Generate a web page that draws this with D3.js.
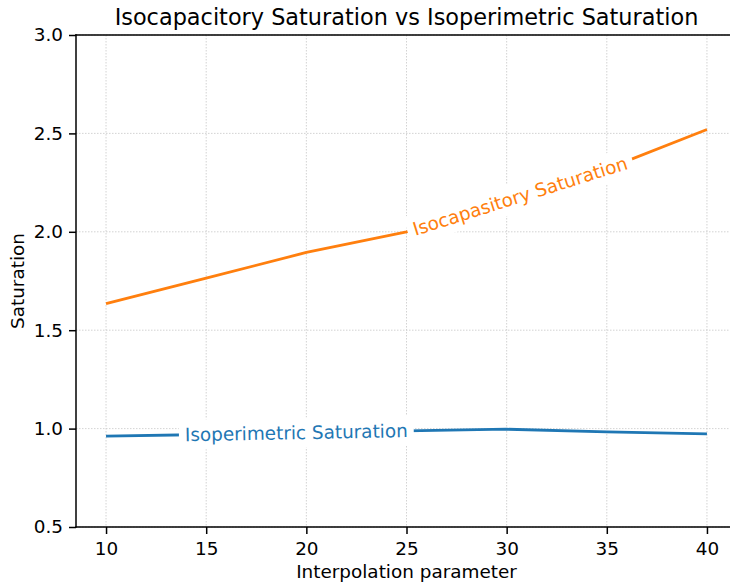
<!DOCTYPE html>
<html><head><meta charset="utf-8">
<script src="https://cdn.jsdelivr.net/npm/d3@7"></script>
<style>body{margin:0;background:#fff}svg{display:block;font-family:"DejaVu Sans",sans-serif}</style>
</head><body><svg id="c" width="730" height="586"></svg>
<script>
const xValues = [10, 15, 20, 25, 30, 35, 40];
const isocapacitory = [1.635, 1.765, 1.895, 2.0, 2.16, 2.32, 2.52];
const isoperimetric = [0.962, 0.970, 0.980, 0.988, 0.997, 0.983, 0.973];
const xTicks = [10, 15, 20, 25, 30, 35, 40];
const yTicks = [0.5, 1.0, 1.5, 2.0, 2.5, 3.0];
const seriesNames = ["Isoperimetric Saturation", "Isocapasitory Saturation"];
const labelX = [19.5, 30.67];
const colors = ["#1f77b4", "#ff7f0e"];

const svg = d3.select("#c");
const L = 76, R = 737, T = 35, B = 527;
const x = d3.scaleLinear().domain([8.5, 41.5]).range([L, R]);
const y = d3.scaleLinear().domain([0.5, 3.0]).range([B, T]);
const FS = 18.4;

// grid
const grid = svg.append("g").attr("stroke", "#c8c8c8").attr("stroke-width", 0.8).attr("stroke-dasharray", "1.5,1.5");
xTicks.forEach(t => grid.append("line").attr("x1", x(t)).attr("x2", x(t)).attr("y1", T).attr("y2", B));
yTicks.forEach(t => grid.append("line").attr("x1", L).attr("x2", R).attr("y1", y(t)).attr("y2", y(t)));

const series = [isoperimetric, isocapacitory];
const line = d3.line().x((d, i) => x(xValues[i])).y(d => y(d));
series.forEach((s, k) => {
  svg.append("path").datum(s).attr("d", line).attr("fill", "none")
    .attr("stroke", colors[k]).attr("stroke-width", 2.8).attr("stroke-linejoin", "round");
});

// inline labels
function valAt(s, xv) {
  const interp = d3.scaleLinear().domain(xValues).range(s);
  return interp(xv);
}
series.forEach((s, k) => {
  const xv = labelX[k];
  const px = x(xv), py = y(valAt(s, xv));
  const a = y(valAt(s, xv - 2)), b = y(valAt(s, xv + 2));
  const ang = Math.atan2(b - a, x(xv + 2) - x(xv - 2)) * 180 / Math.PI;
  const g = svg.append("g").attr("transform", `translate(${px},${py}) rotate(${ang})`);
  const txt = g.append("text").text(seriesNames[k]).attr("text-anchor", "middle")
    .attr("dy", "0.35em").attr("font-size", FS).attr("fill", colors[k]);
  const w = txt.node().getComputedTextLength();
  g.insert("rect", "text").attr("x", -w / 2 - 6).attr("y", -15).attr("width", w + 12).attr("height", 30)
    .attr("fill", "#fff");
});

// axes
const xAxis = d3.axisBottom(x).tickValues(xTicks).tickSize(7).tickPadding(8).tickFormat(d3.format("d"));
const yAxis = d3.axisLeft(y).tickValues(yTicks).tickSize(7).tickPadding(6).tickFormat(d3.format(".1f"));
const gx = svg.append("g").attr("transform", `translate(0,${B})`).call(xAxis);
const gy = svg.append("g").attr("transform", `translate(${L},0)`).call(yAxis);
[gx, gy].forEach(g => {
  g.select(".domain").remove();
  g.selectAll(".tick line").attr("stroke", "#000").attr("stroke-width", 1.5);
  g.selectAll(".tick text").attr("font-size", FS).attr("fill", "#000").attr("font-family", "DejaVu Sans");
});
// spines
const sp = svg.append("g").attr("stroke", "#000").attr("stroke-width", 1.5).attr("stroke-linecap", "square");
sp.append("line").attr("x1", L).attr("x2", L).attr("y1", T).attr("y2", B);
sp.append("line").attr("x1", L).attr("x2", R).attr("y1", B).attr("y2", B);
sp.append("line").attr("x1", L).attr("x2", R).attr("y1", T).attr("y2", T);
sp.append("line").attr("x1", R).attr("x2", R).attr("y1", T).attr("y2", B);

svg.append("text").attr("x", (L + R) / 2).attr("y", 25).attr("text-anchor", "middle")
  .attr("font-size", 22.4).text("Isocapacitory Saturation vs Isoperimetric Saturation");
svg.append("text").attr("x", (L + R) / 2).attr("y", 578).attr("text-anchor", "middle")
  .attr("font-size", FS).text("Interpolation parameter");
svg.append("text").attr("transform", `translate(23.5,${(T + B) / 2}) rotate(-90)`).attr("text-anchor", "middle")
  .attr("font-size", FS).text("Saturation");
</script></body></html>
